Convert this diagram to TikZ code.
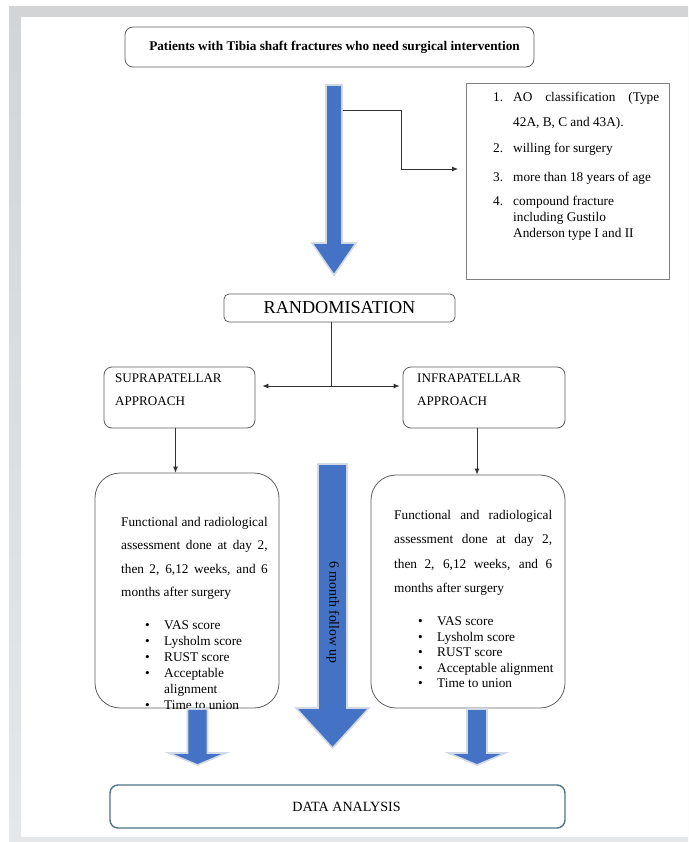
\documentclass[tikz,border=0pt]{standalone}
\usepackage{fontspec}
\setmainfont{Liberation Serif}
\usepackage{tikz}
\usetikzlibrary{arrows.meta}
\definecolor{frametop}{HTML}{D3D4D6}
\definecolor{framebot}{HTML}{E6E7E8}
\definecolor{boxgray}{HTML}{5F5F5F}
\definecolor{linegray}{HTML}{333333}
\definecolor{arrowblue}{HTML}{4472C4}
\definecolor{arrowedge}{HTML}{D2D9E6}
\definecolor{datateal}{HTML}{4E7488}
\tikzstyle{every node}=[inner sep=0pt]
\tikzstyle{roundbox}=[draw=boxgray,line width=0.8pt,rounded corners=8pt]
\tikzstyle{bigbox}=[draw=boxgray,line width=0.8pt,rounded corners=25pt]
\tikzstyle{blockarrow}=[fill=arrowblue,draw=arrowedge,line width=1.6pt,line join=miter]
\tikzstyle{link}=[draw=linegray,line width=0.8pt]
\tikzstyle{bodytext}=[align=left,anchor=base west,font=\fontsize{13.3}{16}\selectfont]
\tikzstyle{captext}=[align=left,anchor=base west,font=\fontsize{13.1}{23}\selectfont]
\newcommand{\bul}{\makebox[19pt][l]{\textbullet}}

\begin{document}
\begin{tikzpicture}[x=1pt,y=-1pt,>={Latex[length=6pt,width=5pt]}]
	\useasboundingbox (0,0) rectangle (688,842);
	\fill[top color=frametop,bottom color=framebot] (9,7) rectangle (688,842);
	\fill[white] (21,17) rectangle (688,837);

	\node(patients)[roundbox,minimum width=409pt,minimum height=40pt] at (329.5,47){};
	\node(patientstxt)[font=\bfseries\fontsize{13.25}{15}\selectfont] at ([xshift=5pt]patients.center){Patients with Tibia shaft fractures who need surgical intervention};

	\draw[blockarrow] (326,85) -- (342,85) -- (342,243) -- (356,243) -- (334,275) -- (312,243) -- (326,243) -- cycle;
	\coordinate (fork) at (343,110);
	\coordinate (critin) at (458,169);
	\draw[link,->] (fork) -- ++(58,0) |- (critin);

	\node(criteria)[draw=boxgray!80,line width=0.8pt,minimum width=203pt,minimum height=196pt] at (567.5,181){};
	\node(critlist)[bodytext] at (493,237){%
		\makebox[20pt][l]{1.}\hbox to 146pt{AO classification (Type}\\[8pt]
		\hspace*{20pt}42A, B, C and 43A).\\[10pt]
		\makebox[20pt][l]{2.}willing for surgery\\[13pt]
		\makebox[20pt][l]{3.}more than 18 years of age\\[8pt]
		\makebox[20pt][l]{4.}compound fracture\\
		\hspace*{20pt}including Gustilo\\
		\hspace*{20pt}Anderson type I and II};

	\node(rand)[roundbox,rounded corners=5pt,minimum width=231pt,minimum height=28pt,font=\fontsize{18.2}{20}\selectfont] at (339.5,308){RANDOMISATION};
	\coordinate (split) at (331,386);

	\node(supra)[roundbox,minimum width=151pt,minimum height=61pt] at (179.5,397.5){};
	\node(supratxt)[captext] at (115,405.5){SUPRAPATELLAR\\APPROACH};
	\node(infra)[roundbox,minimum width=162pt,minimum height=61pt] at (484,397.5){};
	\node(infratxt)[captext] at (417,405.5){INFRAPATELLAR\\APPROACH};

	\draw[link] (rand.south -| split) -- (split);
	\draw[link,<->] ([xshift=7pt]supra.east |- split) -- ([xshift=-3pt]infra.west |- split);

	\node(leftbox)[bigbox,minimum width=184pt,minimum height=235pt] at (187,590.5){};
	\node(rightbox)[bigbox,minimum width=194pt,minimum height=233pt] at (468,591.5){};
	\draw[link,->] ([xshift=-4pt]supra.south) -- ([xshift=-4pt]supra.south |- leftbox.north);
	\draw[link,->] ([xshift=-7pt]infra.south) -- ([xshift=-7pt]infra.south |- rightbox.north);

	\node(leftpara)[bodytext,font=\fontsize{13.3}{23.3}\selectfont] at (121,596.5){%
		\hbox to 146.5pt{Functional and radiological}\\
		\hbox to 146.5pt{assessment done at day 2,}\\
		\hbox to 146.5pt{then 2, 6,12 weeks, and 6}\\
		months after surgery};
	\node(leftlist)[bodytext] at (145,709.5){%
		\bul VAS score\\
		\bul Lysholm score\\
		\bul RUST score\\
		\bul Acceptable\\
		\hspace*{19pt}alignment\\
		\bul Time to union};

	\node(rightpara)[bodytext,font=\fontsize{13.3}{24.3}\selectfont] at (394,592.5){%
		\hbox to 158pt{Functional and radiological}\\
		\hbox to 158pt{assessment done at day 2,}\\
		\hbox to 158pt{then 2, 6,12 weeks, and 6}\\
		months after surgery};
	\node(rightlist)[bodytext,font=\fontsize{13.3}{15.5}\selectfont] at (418,687.5){%
		\bul VAS score\\
		\bul Lysholm score\\
		\bul RUST score\\
		\bul Acceptable alignment\\
		\bul Time to union};

	\draw[blockarrow] (318,464) -- (347,464) -- (347,708) -- (369,708) -- (332.5,748) -- (296,708) -- (318,708) -- cycle;
	\node(followup)[rotate=-90,font=\fontsize{13.8}{16}\selectfont] at (333,612.5){6 month follow up};
	\draw[blockarrow] (187.5,709) -- (207.5,709) -- (207.5,753) -- (226,753) -- (197.5,765) -- (169,753) -- (187.5,753) -- cycle;
	\draw[blockarrow] (467,709) -- (487,709) -- (487,753) -- (505.5,753) -- (477,765) -- (448.5,753) -- (467,753) -- cycle;

	\node(data)[draw=datateal,line width=1.4pt,rounded corners=8pt,minimum width=455pt,minimum height=43pt] at (337.5,806.5){};
	\node(datatxt)[font=\fontsize{14.1}{16}\selectfont] at ([xshift=9pt]data.center){DATA ANALYSIS};
\end{tikzpicture}
\end{document}
